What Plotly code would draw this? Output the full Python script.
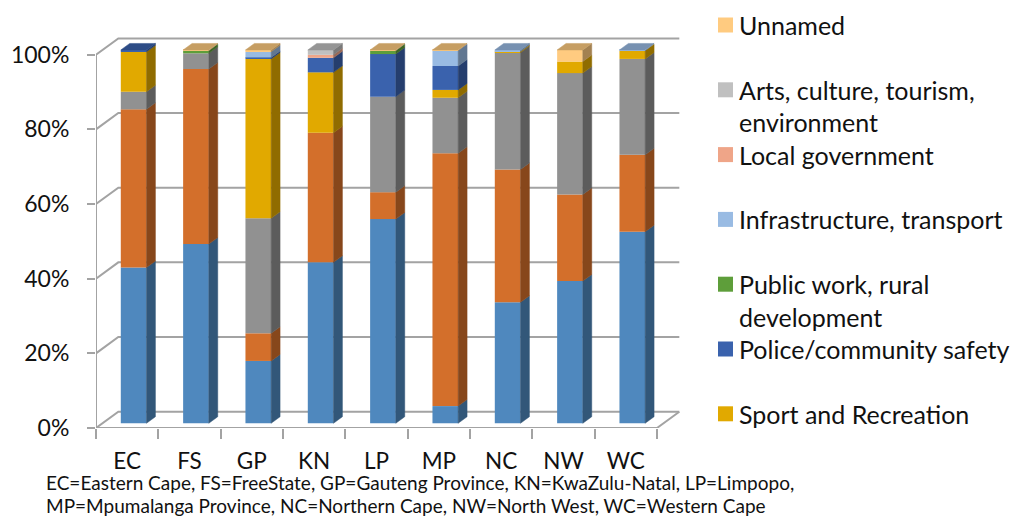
import plotly.graph_objects as go

# Provinces and the share (%) of each funded sector, stacked bottom to top
provinces = ["EC", "FS", "GP", "KN", "LP", "MP", "NC", "NW", "WC"]

series_1 = [41.7, 48.0, 16.7, 43.1, 54.7, 4.6, 32.4, 38.1, 51.3]
series_2 = [42.4, 46.9, 7.4, 34.7, 7.2, 67.7, 35.6, 23.2, 20.6]
series_3 = [4.7, 4.2, 30.8, 0.0, 25.6, 14.9, 31.3, 32.5, 25.7]
sport_recreation = [10.7, 0.0, 42.7, 16.2, 0.0, 2.1, 0.3, 3.1, 2.2]
police_safety = [0.5, 0.0, 0.4, 3.9, 11.4, 6.4, 0.0, 0.0, 0.0]
public_work = [0.0, 0.7, 0.0, 0.0, 0.9, 0.0, 0.0, 0.0, 0.0]
infrastructure = [0.0, 0.0, 1.5, 0.0, 0.0, 4.1, 0.4, 0.0, 0.2]
local_government = [0.0, 0.0, 0.0, 0.8, 0.0, 0.0, 0.0, 0.0, 0.0]
arts_culture = [0.0, 0.0, 0.0, 1.3, 0.0, 0.0, 0.0, 0.0, 0.0]
unnamed = [0.0, 0.2, 0.5, 0.0, 0.2, 0.2, 0.0, 3.1, 0.0]

y_ticks = [0, 20, 40, 60, 80, 100]
y_tick_labels = ["0%", "20%", "40%", "60%", "80%", "100%"]

caption_lines = [
    "EC=Eastern Cape, FS=FreeState, GP=Gauteng Province, KN=KwaZulu-Natal, LP=Limpopo,",
    "MP=Mpumalanga Province, NC=Northern Cape, NW=North West, WC=Western Cape",
]

# (name, values, front colour, shown in legend, legend text lines)
stack = [
    ("Series 1", series_1, "#4F88BE", False, None),
    ("Series 2", series_2, "#D36F2B", False, None),
    ("Series 3", series_3, "#919191", False, None),
    ("Sport and Recreation", sport_recreation, "#E1A900", True, ["Sport and Recreation"]),
    ("Police/community safety", police_safety, "#3A62AD", True, ["Police/community safety"]),
    ("Public work, rural development", public_work, "#5E9E3A", True,
     ["Public work, rural", "development"]),
    ("Infrastructure, transport", infrastructure, "#99BBE3", True, ["Infrastructure, transport"]),
    ("Local government", local_government, "#EFA588", True, ["Local government"]),
    ("Arts, culture, tourism, environment", arts_culture, "#C0C0C0", True,
     ["Arts, culture, tourism,", "environment"]),
    ("Unnamed", unnamed, "#FFCB80", True, ["Unnamed"]),
]

# ---- 3-D look: floor depth and box geometry in data units ----
DEPTH_X, DEPTH_Y = 0.358, 4.37       # floor / wall depth offset
BAR_FRONT = 0.29                      # depth position of the bar front faces
BAR_DEPTH = 0.40                      # box depth as a share of floor depth
BAR_WIDTH = 0.412
X_MAX = 8.885
Y_MAX = 104.74

GRID = "#A3A3A3"
FONT = "Lato"
TEXT = "#111111"

# layout in pixels
W, H = 1017, 518
ML, MR, MT, MB = 96, 336, 37, 90
PW, PH = W - ML - MR, H - MT - MB


def shade(hex_color, f):
    h = hex_color.lstrip("#")
    r, g, b = (int(h[i:i + 2], 16) for i in (0, 2, 4))
    return "rgb({},{},{})".format(int(r * f), int(g * f), int(b * f))


def px_x(px):
    return (px - ML) / PW


def px_y(py):
    return (H - MB - py) / PH


x_shift = BAR_FRONT * DEPTH_X
y_shift = BAR_FRONT * DEPTH_Y
bdx = BAR_DEPTH * DEPTH_X
bdy = BAR_DEPTH * DEPTH_Y
x_pos = [i + x_shift for i in range(len(provinces))]

fig = go.Figure()

# running bases for the stack
bases = [[y_shift] * len(provinces)]
for _, vals, _, _, _ in stack:
    bases.append([b + v for b, v in zip(bases[-1], vals)])

# topmost non-zero series of every column (its top face is visible)
top_series = []
for j in range(len(provinces)):
    k_top = max(k for k, s in enumerate(stack) if s[1][j] > 0)
    top_series.append(k_top)

for k, (name, vals, color, _, _) in enumerate(stack):
    base = bases[k]
    fig.add_trace(go.Bar(
        x=x_pos, y=vals, base=base, width=BAR_WIDTH, name=name,
        marker=dict(color=color, line=dict(width=0)),
        showlegend=False,
    ))

for k, (name, vals, color, _, _) in enumerate(stack):
    base = bases[k]
    sx, sy, tx, ty = [], [], [], []
    for j, v in enumerate(vals):
        if v <= 0:
            continue
        xr = x_pos[j] + BAR_WIDTH / 2
        xl = x_pos[j] - BAR_WIDTH / 2
        y0, y1 = base[j], base[j] + v
        sx += [xr, xr + bdx, xr + bdx, xr, xr, None]
        sy += [y0, y0 + bdy, y1 + bdy, y1, y0, None]
        if top_series[j] == k:
            tx += [xl, xr, xr + bdx, xl + bdx, xl, None]
            ty += [y1, y1, y1 + bdy, y1 + bdy, y1, None]
    if sx:
        fig.add_trace(go.Scatter(
            x=sx, y=sy, mode="lines", fill="toself",
            fillcolor=shade(color, 0.64), line=dict(width=0.5, color=shade(color, 0.64)),
            hoverinfo="skip", showlegend=False,
        ))
    if tx:
        fig.add_trace(go.Scatter(
            x=tx, y=ty, mode="lines", fill="toself",
            fillcolor=shade(color, 0.78), line=dict(width=0.5, color=shade(color, 0.78)),
            hoverinfo="skip", showlegend=False,
        ))

# ---- walls, floor and axis lines ----
shapes = []
x_left, x_right = -0.5, len(provinces) - 0.5
for v in y_ticks:
    shapes.append(dict(
        type="path", xref="x", yref="y", layer="below",
        path="M {},{} L {},{} L {},{}".format(
            x_left, v, x_left + DEPTH_X, v + DEPTH_Y, x_right + DEPTH_X, v + DEPTH_Y),
        line=dict(color=GRID, width=2),
    ))
shapes.append(dict(
    type="path", xref="x", yref="y", layer="below",
    path="M {},{} L {},{} L {},{}".format(
        x_left, 0, x_right, 0, x_right + DEPTH_X, DEPTH_Y),
    line=dict(color=GRID, width=2),
))
shapes.append(dict(
    type="line", xref="x", yref="y", layer="below",
    x0=x_left, y0=0, x1=x_left, y1=100, line=dict(color=GRID, width=2),
))

# ---- legend (entries laid out on a two-line grid) ----
annotations = []
slot_px = 32.4
first_px = 25
slot = 0
legend_entries = [s for s in stack if s[3]][::-1]
for name, _, color, _, lines in legend_entries:
    cy = first_px + slot * slot_px
    shapes.append(dict(
        type="rect", xref="paper", yref="paper",
        x0=px_x(718), x1=px_x(733), y0=px_y(cy + 7.5), y1=px_y(cy - 7.5),
        fillcolor=color, line=dict(width=0),
    ))
    for li, text in enumerate(lines):
        annotations.append(dict(
            xref="paper", yref="paper", x=px_x(737), y=px_y(cy + li * slot_px),
            xanchor="left", yanchor="middle", text=text, showarrow=False,
            font=dict(family=FONT, size=25, color=TEXT),
        ))
    slot += 2

for li, text in enumerate(caption_lines):
    annotations.append(dict(
        xref="paper", yref="paper", x=px_x(45), y=px_y(482 + li * 23.5),
        xanchor="left", yanchor="middle", text=text, showarrow=False,
        font=dict(family=FONT, size=19, color=TEXT), borderpad=0,
    ))

fig.update_layout(
    width=W, height=H,
    margin=dict(l=ML, r=MR, t=MT, b=MB, pad=0),
    barmode="overlay",
    paper_bgcolor="white", plot_bgcolor="white",
    font=dict(family=FONT, color=TEXT),
    showlegend=False,
    shapes=shapes,
    annotations=annotations,
    xaxis=dict(
        range=[-0.5, X_MAX], tickvals=list(range(len(provinces))), ticktext=provinces,
        ticks="", showgrid=False, zeroline=False, showline=False,
        tickfont=dict(family=FONT, size=22.5, color=TEXT),
        ticklabelstandoff=17, automargin=False,
        minor=dict(tickvals=[i - 0.5 for i in range(len(provinces) + 1)],
                   ticks="outside", ticklen=10, tickcolor=GRID, tickwidth=2, showgrid=False),
    ),
    yaxis=dict(
        range=[0, Y_MAX], tickvals=y_ticks, ticktext=y_tick_labels,
        ticks="outside", ticklen=8, tickcolor=GRID, tickwidth=2,
        showgrid=False, zeroline=False, showline=False,
        tickfont=dict(family=FONT, size=23, color=TEXT),
        ticklabelstandoff=13, automargin=False,
    ),
)

fig.write_html("out.html")
